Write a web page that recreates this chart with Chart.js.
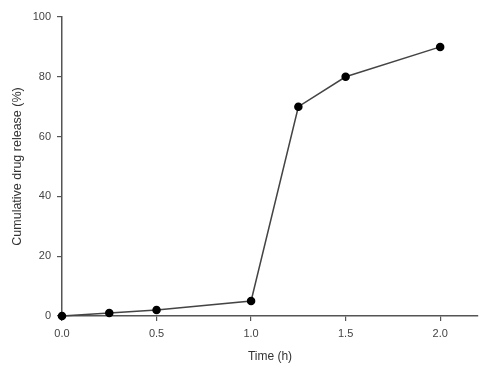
<!DOCTYPE html>
<html lang="en">

<head>
    <meta charset="UTF-8">
    <script src="https://cdn.jsdelivr.net/npm/chart.js"></script>
    <title>Cumulative drug release</title>
    <style>
        html, body { margin: 0; padding: 0; background: #fff; }
        .grafico { width: 492px; height: 374px; }
    </style>
</head>

<body>
    <div class="grafico">
        <canvas id="graficoLiberacao"></canvas>
    </div>
</body>

</html>

<script>
    // tempo (h) e liberação acumulada (%)
    var tempo = [0, 0.25, 0.5, 1.0, 1.25, 1.5, 2.0]
    var liberacao = [0, 1, 2, 5, 70, 80, 90]
    var ticksY = [0, 20, 40, 60, 80, 100]
    var ticksX = [0, 0.5, 1.0, 1.5, 2.0]

    var pontos = tempo.map((t, i) => ({ x: t, y: liberacao[i] }))
    var fonte = { family: 'Liberation Sans, Arial, sans-serif', size: 11 }
    var cinza = '#555'

    var graficoLiberacao = new Chart(document.getElementById('graficoLiberacao').getContext('2d'), {
        type: 'scatter',
        data: {
            datasets: [{
                data: pontos,
                showLine: true,
                clip: false,
                borderColor: '#444',
                borderWidth: 1.5,
                pointBackgroundColor: '#000',
                pointBorderColor: '#000',
                pointRadius: 3.5,
                fill: false
            }]
        },
        options: {
            responsive: true,
            maintainAspectRatio: false,
            animation: false,
            layout: {
                padding: { top: 17, right: 14, left: 0, bottom: 0 }
            },
            plugins: {
                legend: { display: false },
                tooltip: { enabled: false }
            },
            scales: {
                x: {
                    type: 'linear',
                    min: 0,
                    max: 2.2,
                    afterFit: (s) => { s.height = 58 },
                    afterBuildTicks: (s) => { s.ticks = ticksX.map(v => ({ value: v })) },
                    grid: { drawOnChartArea: false, color: cinza, tickLength: 5, lineWidth: 1.2 },
                    border: { color: cinza, width: 1.5 },
                    ticks: {
                        color: '#444',
                        font: fonte,
                        padding: 6,
                        callback: (v) => Number(v).toFixed(1)
                    },
                    title: {
                        display: true,
                        text: 'Time (h)',
                        color: '#333',
                        font: { family: 'Liberation Sans, Arial, sans-serif', size: 12 },
                        padding: { top: 4, bottom: 10 }
                    }
                },
                y: {
                    min: 0,
                    max: 100,
                    afterFit: (s) => { s.width = 62 },
                    afterBuildTicks: (s) => { s.ticks = ticksY.map(v => ({ value: v })) },
                    grid: { drawOnChartArea: false, color: cinza, tickLength: 5, lineWidth: 1.2 },
                    border: { color: cinza, width: 1.5 },
                    ticks: {
                        color: '#444',
                        font: fonte,
                        padding: 6
                    },
                    title: {
                        display: true,
                        text: 'Cumulative drug release (%)',
                        color: '#333',
                        font: { family: 'Liberation Sans, Arial, sans-serif', size: 12.5 },
                        padding: { top: 10, bottom: 4 }
                    }
                }
            }
        }
    });
</script>
